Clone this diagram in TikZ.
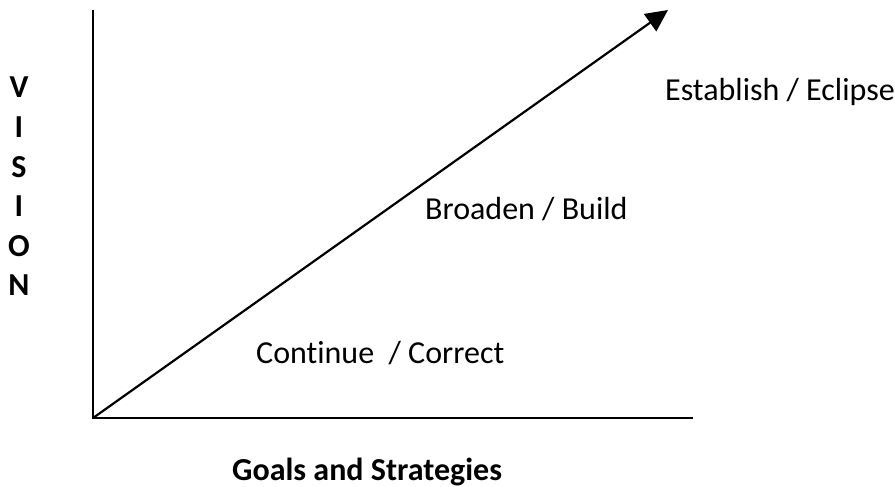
\documentclass[tikz,border=0pt]{standalone}
\usepackage{fontspec}
\setmainfont{Carlito}[Ligatures=NoCommon]
\usetikzlibrary{arrows.meta}
\begin{document}
\begin{tikzpicture}[x=1pt,y=-1pt,
  axis/.style={line width=2.2pt},
  lbl/.style={inner sep=0pt,anchor=base west,font=\fontsize{32}{38}\selectfont},
  vlet/.style={inner sep=0pt,anchor=base,font=\bfseries\fontsize{32}{38}\selectfont}]
\useasboundingbox (0,0) rectangle (895,487);
% axes and the rising arrow
\coordinate (o) at (93,418);
\coordinate (ytop) at (93,10);
\coordinate (xend) at (693,418);
\coordinate (tip) at (668,10);
\draw[axis] (ytop) -- (o) -- (xend);
\draw[axis,-{Triangle[length=22pt,width=21pt]}] (o) -- (tip);
% vertical axis title, one letter per line
\node[vlet] (v1) at (19,98) {V};
\node[vlet] (v2) at (19,137.5) {I};
\node[vlet] (v3) at (19,177) {S};
\node[vlet] (v4) at (19,216.5) {I};
\node[vlet] (v5) at (19,256) {O};
\node[vlet] (v6) at (19,295.5) {N};
% stage labels
\node[lbl] (est) at (665,100) {Establish / Eclipse};
\node[lbl] (bro) at (425,219) {Broaden / Build};
\node[lbl] (con) at (256,363) {Continue\ \ / Correct};
% horizontal axis title
\node[vlet,anchor=base west] (goals) at (232,480) {Goals and Strategies};
\end{tikzpicture}
\end{document}
